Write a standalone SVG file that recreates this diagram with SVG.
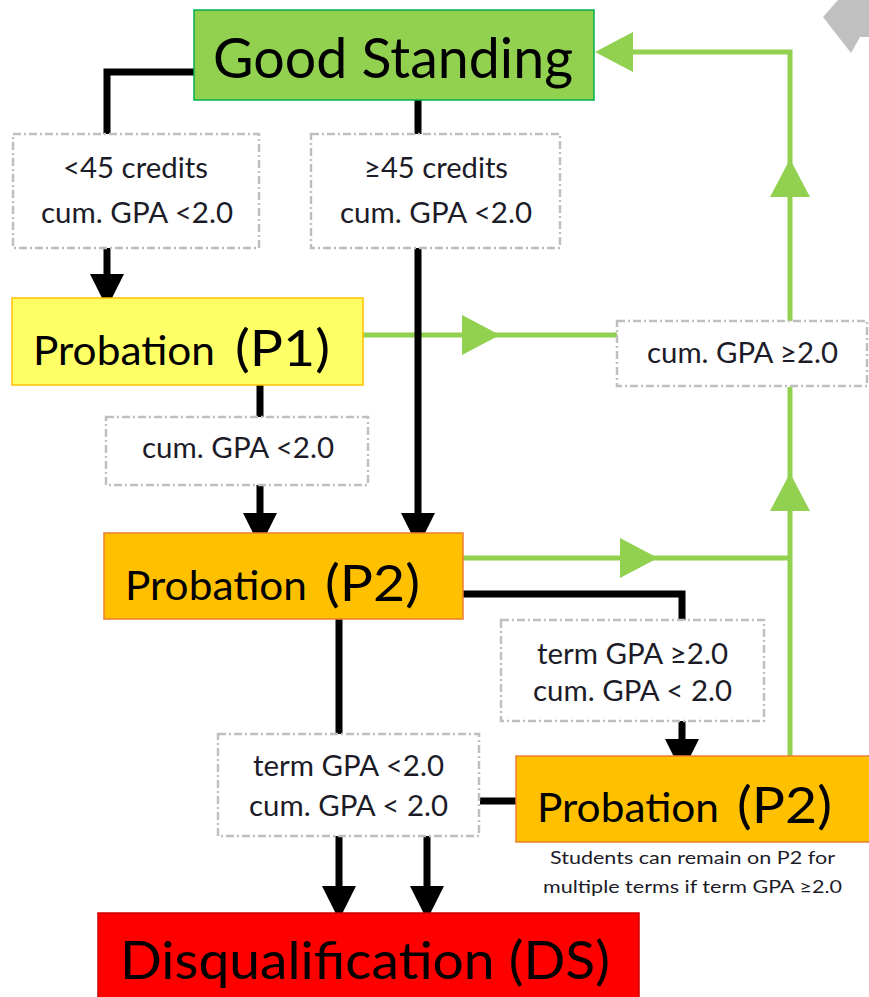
<svg xmlns="http://www.w3.org/2000/svg" width="869" height="997" viewBox="0 0 869 997">
<style>
.big{font-family:Lato,"Liberation Sans",sans-serif;fill:#000}
.lbl{font-family:Lato,"Liberation Sans",sans-serif;font-size:28.5px;fill:#1c1c28}
.note{font-family:Lato,"Liberation Sans",sans-serif;font-size:17px;fill:#1c1c28}
.cond{fill:#fff;stroke:#bfbfbf;stroke-width:2.5;stroke-dasharray:8 3 2 3}
.blk{fill:none;stroke:#000;stroke-width:7;stroke-linejoin:miter}
.grn{fill:none;stroke:#92d050;stroke-width:5;stroke-linejoin:miter}
.ba{marker-end:url(#ab)}
.ga{marker-end:url(#ag)}
</style>
<defs>
<marker id="ab" viewBox="0 0 34 34" refX="14" refY="17" markerWidth="34" markerHeight="34" markerUnits="userSpaceOnUse" orient="auto"><path d="M0,0 L34,17 L0,34 z" fill="#000"/></marker>
<marker id="ag" viewBox="0 0 38 40" refX="10" refY="20" markerWidth="38" markerHeight="40" markerUnits="userSpaceOnUse" orient="auto"><path d="M0,0 L38,20 L0,40 z" fill="#92d050"/></marker>
</defs>
<rect width="869" height="997" fill="#fff"/>
<polygon points="823,17 851,53 860,37 869,37 869,0 838,0" fill="#c0c0c0"/>

<g id="connectors">
<path class="grn ga" d="M790,321 L790,187"/>
<path class="grn ga" d="M790,187 L790,52 L623,52"/>
<path class="grn ga" d="M363,335 L472,335"/>
<path class="grn" d="M470,335 L617,335"/>
<path class="grn ga" d="M463,558 L630,558"/>
<path class="grn" d="M628,558 L792,558"/>
<path class="grn ga" d="M790,756 L790,501"/>
<path class="grn" d="M790,503 L790,387"/>
<path class="blk" d="M194,72 L107,72 L107,134"/>
<path class="blk" d="M418,100 L418,134"/>
<path class="blk ba" d="M107,248 L107,288"/>
<path class="blk ba" d="M418,248 L418,527"/>
<path class="blk" d="M260,385 L260,417"/>
<path class="blk ba" d="M260,485 L260,527"/>
<path class="blk" d="M463,594 L682,594 L682,620"/>
<path class="blk ba" d="M682,721 L682,753"/>
<path class="blk" d="M339,619 L339,734"/>
<path class="blk" d="M516,801 L480,801"/>
<path class="blk ba" d="M339,836 L339,900"/>
<path class="blk ba" d="M427,836 L427,900"/>
</g>

<g id="good-standing">
<rect x="194" y="10" width="400" height="90" fill="#92d050" stroke="#00b050" stroke-width="1.5"/>
<text class="big" x="213" y="78" font-size="56" textLength="360" lengthAdjust="spacingAndGlyphs">Good Standing</text>
</g>

<g id="cond-lt45">
<rect class="cond" x="13" y="134" width="246" height="114"/>
<text class="lbl" x="63" y="178" textLength="145" lengthAdjust="spacingAndGlyphs">&lt;45 credits</text>
<text class="lbl" x="41" y="223" textLength="192" lengthAdjust="spacingAndGlyphs">cum. GPA &lt;2.0</text>
</g>

<g id="cond-ge45">
<rect class="cond" x="311" y="134" width="249" height="114"/>
<text class="lbl" x="364" y="178" textLength="144" lengthAdjust="spacingAndGlyphs">≥45 credits</text>
<text class="lbl" x="340" y="223" textLength="192" lengthAdjust="spacingAndGlyphs">cum. GPA &lt;2.0</text>
</g>

<g id="p1">
<rect x="12" y="298" width="351" height="87" fill="#ffff66" stroke="#ffc000" stroke-width="1.5"/>
<text class="big" x="33" y="365" font-size="40" textLength="182" lengthAdjust="spacingAndGlyphs">Probation</text>
<text class="big" x="235" y="366" font-size="50" textLength="95" lengthAdjust="spacingAndGlyphs">(P1)</text>
</g>

<g id="cond-cum-ge2">
<rect class="cond" x="617" y="321" width="250" height="65"/>
<text class="lbl" x="647" y="363" textLength="191" lengthAdjust="spacingAndGlyphs">cum. GPA ≥2.0</text>
</g>

<g id="cond-p1-p2">
<rect class="cond" x="106" y="417" width="262" height="68"/>
<text class="lbl" x="142" y="458" textLength="192" lengthAdjust="spacingAndGlyphs">cum. GPA &lt;2.0</text>
</g>

<g id="p2">
<rect x="104" y="533" width="359" height="86" fill="#ffc000" stroke="#ed7d31" stroke-width="1.5"/>
<text class="big" x="125" y="600" font-size="40" textLength="182" lengthAdjust="spacingAndGlyphs">Probation</text>
<text class="big" x="325" y="601" font-size="50" textLength="95" lengthAdjust="spacingAndGlyphs">(P2)</text>
</g>

<g id="cond-term-ge2">
<rect class="cond" x="501" y="620" width="263" height="101"/>
<text class="lbl" x="537" y="664" textLength="191" lengthAdjust="spacingAndGlyphs">term GPA ≥2.0</text>
<text class="lbl" x="533" y="701" textLength="199" lengthAdjust="spacingAndGlyphs">cum. GPA &lt; 2.0</text>
</g>

<g id="cond-term-lt2">
<rect class="cond" x="218" y="734" width="261" height="102"/>
<text class="lbl" x="253" y="776" textLength="191" lengthAdjust="spacingAndGlyphs">term GPA &lt;2.0</text>
<text class="lbl" x="249" y="816" textLength="199" lengthAdjust="spacingAndGlyphs">cum. GPA &lt; 2.0</text>
</g>

<g id="p2-repeat">
<rect x="516" y="756" width="360" height="86" fill="#ffc000" stroke="#ed7d31" stroke-width="1.5"/>
<text class="big" x="537" y="822" font-size="40" textLength="182" lengthAdjust="spacingAndGlyphs">Probation</text>
<text class="big" x="737" y="823" font-size="50" textLength="95" lengthAdjust="spacingAndGlyphs">(P2)</text>
<text class="note" x="550" y="864" textLength="285" lengthAdjust="spacingAndGlyphs">Students can remain on P2 for</text>
<text class="note" x="543" y="893" textLength="299" lengthAdjust="spacingAndGlyphs">multiple terms if term GPA ≥2.0</text>
</g>

<g id="ds">
<rect x="98" y="913" width="541" height="100" fill="#ff0000" stroke="#d00000" stroke-width="1.5"/>
<text class="big" x="120" y="979" font-size="52" textLength="490" lengthAdjust="spacingAndGlyphs">Disqualification (DS)</text>
</g>
</svg>
